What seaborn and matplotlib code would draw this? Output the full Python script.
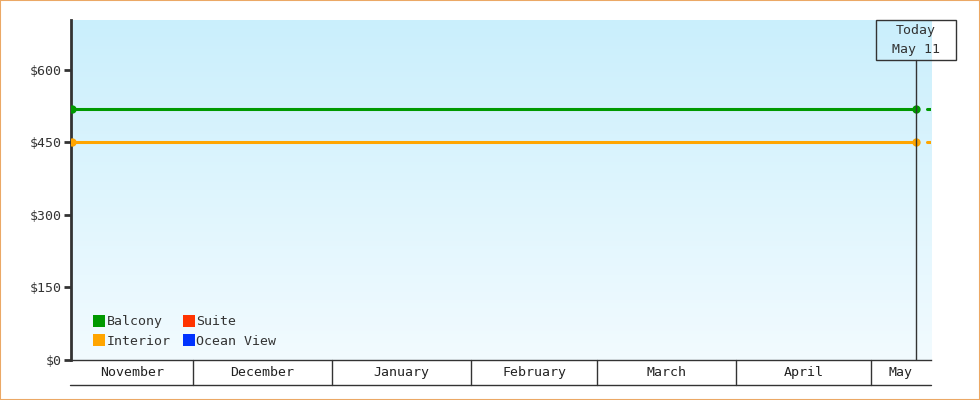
import numpy as np
import pandas as pd
import matplotlib
matplotlib.use("Agg")
import matplotlib.pyplot as plt
import matplotlib.dates as mdates
from matplotlib.lines import Line2D
from matplotlib.patches import Rectangle
import seaborn as sns

# data
cabins = ["Balcony", "Interior", "Suite", "Ocean View"]
cabin_colors = ["#009900", "#ffa500", "#ff3300", "#0033ff"]
dates = ["2018-11-04", "2019-05-11"]
balcony_prices = [520, 520]
interior_prices = [450, 450]
forecast_dates = ["2019-05-13 12:00", "2019-05-15 00:00"]
x_start, x_end = "2018-11-03 20:00", "2019-05-14 09:00"
today = "2019-05-11"
today_label = "Today\nMay 11"
month_starts = ["2018-12-01", "2019-01-01", "2019-02-01", "2019-03-01", "2019-04-01", "2019-05-01"]
month_names = ["November", "December", "January", "February", "March", "April", "May"]
y_ticks = [0, 150, 300, 450, 600]
y_max = 703

df = pd.DataFrame({
    "date": pd.to_datetime(dates * 2),
    "price": balcony_prices + interior_prices,
    "cabin": ["Balcony"] * len(dates) + ["Interior"] * len(dates),
})

sns.set_theme(style="white")
fs = 9.5
plt.rcParams["font.family"] = ["DejaVu Sans Mono"]
plt.rcParams.update({"font.size": fs, "ytick.labelsize": fs, "xtick.labelsize": fs,
                     "legend.fontsize": fs})
ink = "#333333"

fig = plt.figure(figsize=(9.8, 4), dpi=100)
ax = fig.add_axes([71 / 980, 40 / 400, 860 / 980, 340 / 400])

x0, x1 = pd.Timestamp(x_start), pd.Timestamp(x_end)
ax.set_xlim(x0, x1)
ax.set_ylim(0, y_max)

# gradient background
grad = np.linspace(0, 1, 256).reshape(-1, 1)
top = np.array([202, 239, 252]) / 255
bot = np.array([242, 251, 255]) / 255
img = top * (1 - grad[..., None]) + bot * grad[..., None]
ax.imshow(img, extent=[0, 1, 0, 1], transform=ax.transAxes, aspect="auto", zorder=0)

palette = dict(zip(cabins, cabin_colors))
sns.lineplot(data=df, x="date", y="price", hue="cabin", palette=palette, marker="o",
             markersize=6, markeredgewidth=0, linewidth=2.2, legend=False, ax=ax, zorder=3)
for cabin, prices in [("Balcony", balcony_prices), ("Interior", interior_prices)]:
    ax.plot(pd.to_datetime(forecast_dates), [prices[-1]] * 2, color=palette[cabin],
            linewidth=2.2, zorder=3)

# today marker
t = pd.Timestamp(today)
ax.axvline(t, ymin=0, ymax=300 / 340, color=ink, linewidth=1, zorder=4)
tx = (mdates.date2num(t) - mdates.date2num(x0)) / (mdates.date2num(x1) - mdates.date2num(x0))
box = Rectangle((tx - 40 / 860, 1 - 40 / 340), 80 / 860, 40 / 340, transform=ax.transAxes,
                fill=False, edgecolor=ink, linewidth=1, clip_on=False, zorder=5)
ax.add_patch(box)
ax.text(tx, 1 - 20 / 340, today_label, transform=ax.transAxes, ha="center", va="center",
        color=ink, linespacing=1.65, zorder=6)

# axes styling
sns.despine(ax=ax)
ax.spines["left"].set_linewidth(2)
ax.spines["left"].set_color(ink)
ax.spines["bottom"].set_linewidth(1)
ax.spines["bottom"].set_color(ink)
ax.set_yticks(y_ticks)
ax.set_yticklabels(["$%d" % v for v in y_ticks])
ax.tick_params(axis="y", direction="out", length=5, width=2, color=ink, labelcolor=ink,
               pad=2, left=True)
ax.set_xticks([])
ax.set_xlabel("")
ax.set_ylabel("")

# month cells under axis
trans = ax.get_xaxis_transform()
cell = 25 / 340
for m in pd.to_datetime(month_starts):
    ax.plot([m, m], [0, -cell], transform=trans, color=ink, linewidth=1, clip_on=False)
ax.plot([0 - 1 / 860, 1], [-cell, -cell], transform=ax.transAxes, color=ink, linewidth=1,
        clip_on=False)
edges = [x0] + list(pd.to_datetime(month_starts)) + [x1]
for name, a, b in zip(month_names, edges[:-1], edges[1:]):
    ax.text(a + (b - a) / 2, -cell / 2, name, transform=trans, ha="center", va="center",
            color="#222222")

# legend
handles = [Line2D([], [], marker="s", linestyle="none", markersize=8, markeredgewidth=0,
                  color=c) for c in cabin_colors]
leg = ax.legend(handles, cabins, ncol=2, loc="lower left",
                bbox_to_anchor=(23 / 860, 12 / 340), frameon=False, borderpad=0,
                handlelength=0.8, handletextpad=0.15, columnspacing=1.0, labelspacing=0.5,
                borderaxespad=0)
for txt in leg.get_texts():
    txt.set_color(ink)

# outer border
fig.patches.append(Rectangle((0, 0), 1, 1, transform=fig.transFigure, fill=False,
                             edgecolor="#eba865", linewidth=1.5))

fig.savefig("out.png", dpi=100)
